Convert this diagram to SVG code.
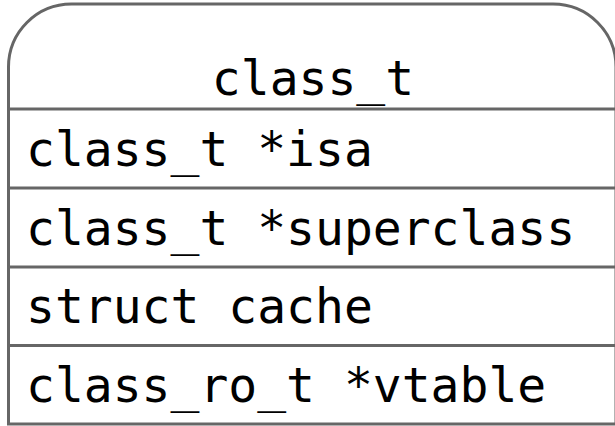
<svg xmlns="http://www.w3.org/2000/svg" width="615" height="426" viewBox="0 0 615 426">
<style>
.box{fill:#ffffff;stroke:#666666;stroke-width:3}
.sep{stroke:#666666;stroke-width:3}
.t{font-family:"DejaVu Sans Mono","Liberation Mono",monospace;font-size:48px;fill:#000000}
</style>
<rect width="615" height="426" fill="#ffffff"/>
<g id="class_t">
<path class="box" d="M8.5 424 V67 A63 63 0 0 1 71.5 4 H553 A63 63 0 0 1 616 67 V424 Z"/>
<line class="sep" x1="8.5" y1="109" x2="616" y2="109"/>
<line class="sep" x1="8.5" y1="188" x2="616" y2="188"/>
<line class="sep" x1="8.5" y1="267" x2="616" y2="267"/>
<line class="sep" x1="8.5" y1="345.5" x2="616" y2="345.5"/>
<text class="t" x="313" y="95" text-anchor="middle">class_t</text>
<text class="t" x="26" y="166">class_t *isa</text>
<text class="t" x="26" y="245">class_t *superclass</text>
<text class="t" x="26" y="323">struct cache</text>
<text class="t" x="26" y="402">class_ro_t *vtable</text>
</g>
<g id="connectors"/>
</svg>
